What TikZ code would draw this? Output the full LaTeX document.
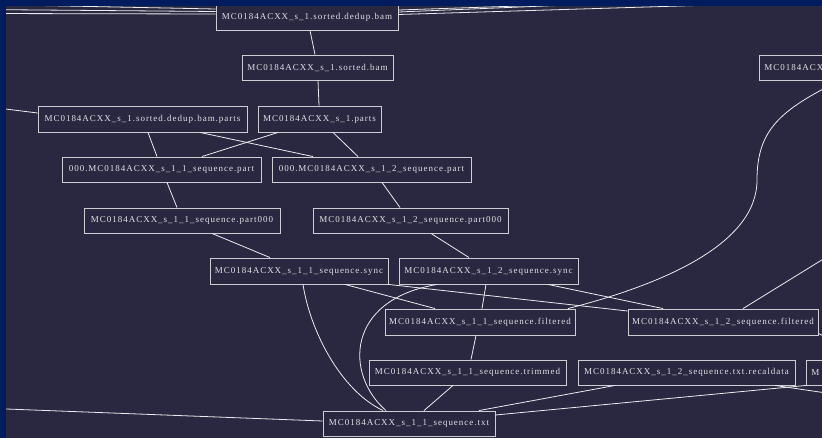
\documentclass[tikz,border=0pt]{standalone}
\usepackage{fontspec}
\setmainfont{Liberation Serif}
\newfontfamily\lblfont[LetterSpace=10.9]{Liberation Serif}
\definecolor{bgc}{RGB}{41,40,64}
\definecolor{framec}{RGB}{0,28,94}
\definecolor{linec}{RGB}{236,236,240}
\definecolor{boxc}{RGB}{205,205,212}
\definecolor{txtc}{RGB}{225,225,230}
\begin{document}
\begin{tikzpicture}[x=1pt,y=-1pt,
  box/.style={draw=boxc, line width=0.9pt, text=txtc, inner sep=0pt,
    minimum height=25pt, font=\lblfont\fontsize{9}{10}\selectfont},
  pbox/.style={box, anchor=west, align=left, text width=60pt, inner xsep=5pt},
  edge/.style={draw=linec, line width=0.8pt}]
\useasboundingbox (0,0) rectangle (822,438);
\fill[bgc] (0,0) rectangle (822,438);
\begin{scope}
\clip (0,0) rectangle (822,438);
% nodes
\node[box, minimum width=182pt, minimum height=26pt] (db) at (307,17) {MC0184ACXX\_s\_1.sorted.dedup.bam};
\node[box, minimum width=151pt] (sb) at (317.5,67.5) {MC0184ACXX\_s\_1.sorted.bam};
\node[pbox] (tr) at (759,67.5) {MC0184ACX};
\node[box, minimum width=209pt, minimum height=26pt] (dbp) at (142.5,119) {MC0184ACXX\_s\_1.sorted.dedup.bam.parts};
\node[box, minimum width=123pt, minimum height=26pt] (s1p) at (319.5,119) {MC0184ACXX\_s\_1.parts};
\node[box, minimum width=199pt] (p11) at (161.5,169.5) {000.MC0184ACXX\_s\_1\_1\_sequence.part};
\node[box, minimum width=199pt] (p12) at (371.5,169.5) {000.MC0184ACXX\_s\_1\_2\_sequence.part};
\node[box, minimum width=196pt] (q11) at (182,220.5) {MC0184ACXX\_s\_1\_1\_sequence.part000};
\node[box, minimum width=195pt] (q12) at (410.5,220.5) {MC0184ACXX\_s\_1\_2\_sequence.part000};
\node[box, minimum width=178pt, minimum height=26pt] (s11) at (299,271) {MC0184ACXX\_s\_1\_1\_sequence.sync};
\node[box, minimum width=179pt, minimum height=26pt] (s12) at (488.5,271) {MC0184ACXX\_s\_1\_2\_sequence.sync};
\node[box, minimum width=190pt, minimum height=26pt] (f11) at (480,322) {MC0184ACXX\_s\_1\_1\_sequence.filtered};
\node[box, minimum width=190pt, minimum height=26pt] (f12) at (723,322) {MC0184ACXX\_s\_1\_2\_sequence.filtered};
\node[box, minimum width=197pt] (t11) at (467.5,372.5) {MC0184ACXX\_s\_1\_1\_sequence.trimmed};
\node[box, minimum width=217pt] (rc) at (686.5,372.5) {MC0184ACXX\_s\_1\_2\_sequence.txt.recaldata};
\node[pbox] (rn) at (806,372.5) {M};
\node[box, minimum width=172pt] (tx) at (409,423.5) {MC0184ACXX\_s\_1\_1\_sequence.txt};
% off-picture ends
\coordinate (la) at (-20,4.3);
\coordinate (lb) at (-20,9.5);
\coordinate (lc) at (-20,13.5);
\coordinate (ra) at (760,-2);
\coordinate (rb) at (740,-2);
\coordinate (rcx) at (945,-2);
\coordinate (c1) at (850,242.6);
\coordinate (c2) at (850,349);
\coordinate (c3) at (850,396.5);
\coordinate (c4) at (-20,408);
\coordinate (c5) at (-20,105.8);
% edges
\draw[edge] (la) -- ([yshift=8]db.west);
\draw[edge] (lb) -- ([yshift=5.5]db.west);
\draw[edge] (lc) -- ([yshift=3]db.west);
\draw[edge] ([yshift=7]db.east) -- (ra);
\draw[edge] ([yshift=5]db.east) -- (rb);
\draw[edge] ([yshift=2.5]db.east) -- (rcx);
\draw[edge] ([xshift=3]db.south) -- ([xshift=-2.5]sb.north);
\draw[edge] ([xshift=0.5]sb.south) -- ([xshift=-0.5]s1p.north);
\draw[edge] (c5) -- ([yshift=6]dbp.west);
\draw[edge] ([xshift=5.5]dbp.south) -- ([xshift=-4.5]p11.north);
\draw[edge] ([xshift=57.5]dbp.south) -- ([xshift=-58.5]p12.north);
\draw[edge] ([xshift=-41.5]s1p.south) -- ([xshift=40.5]p11.north);
\draw[edge] ([xshift=13.5]s1p.south) -- ([xshift=-13.5]p12.north);
\draw[edge] ([xshift=5.5]p11.south) -- ([xshift=-5]q11.north);
\draw[edge] ([xshift=10.5]p12.south) -- ([xshift=-10.5]q12.north);
\draw[edge] ([xshift=30]q11.south) -- ([xshift=-29]s11.north);
\draw[edge] ([xshift=20.5]q12.south) -- ([xshift=-19.5]s12.north);
\draw[edge] ([xshift=46]s11.south) -- ([xshift=-45]f11.north);
\draw[edge] (s11.south east) -- ([yshift=11]f12.west);
\draw[edge] ([xshift=-51.5]s12.south) .. controls (345,300) and (345,375) .. ([xshift=-23]tx.north);
\draw[edge] ([xshift=4]s11.south) .. controls (310,330) and (340,390) .. ([xshift=-26]tx.north);
\draw[edge] ([xshift=-2.5]s12.south) -- ([xshift=2]f11.north);
\draw[edge] ([xshift=59.5]s12.south) -- ([xshift=-60]f12.north);
\draw[edge] ([xshift=81]tr.south west) .. controls (780,110) and (757,130) .. (757,180)
   .. controls (757,245) and (660,285) .. ([xshift=88]f11.north);
\draw[edge] (c1) -- ([xshift=20]f12.north);
\draw[edge] ([yshift=2]f12.south east) -- (c2);
\draw[edge] ([xshift=-4]f11.south) -- ([xshift=3.5]t11.north);
\draw[edge] ([xshift=-14.5]t11.south) -- ([xshift=15]tx.north);
\draw[edge] ([xshift=-71.5]rc.south) -- ([xshift=70]tx.north);
\draw[edge] (rn.south west) -- ([yshift=8.5]tx.east);
\draw[edge] ([xshift=88.5]rc.south) -- (c3);
\draw[edge] (c4) -- ([yshift=2.5]tx.west);
\end{scope}
\fill[framec] (0,0) rectangle (822,6);
\fill[framec] (0,0) rectangle (6,438);
\end{tikzpicture}
\end{document}
